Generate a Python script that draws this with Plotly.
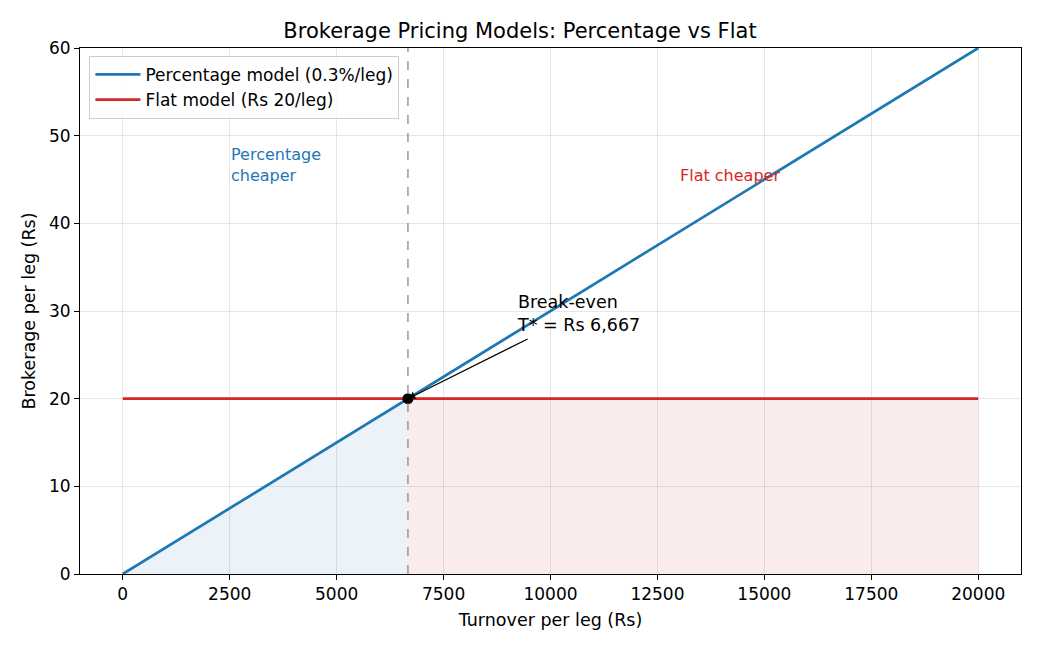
import plotly.graph_objects as go

# Data
turnover = [0, 6667, 20000]
pct_fee = [0, 20, 60]
flat_fee = [20, 20, 20]
breakeven_x = 6667
breakeven_y = 20
x_ticks = [0, 2500, 5000, 7500, 10000, 12500, 15000, 17500, 20000]
y_ticks = [0, 10, 20, 30, 40, 50, 60]

BLUE = "#1f77b4"
RED = "#d62728"
FONT = "DejaVu Sans"

fig = go.Figure()

# Fills
fig.add_trace(go.Scatter(x=turnover[:2], y=pct_fee[:2], fill="tozeroy",
                         fillcolor="rgba(31,119,180,0.09)", line=dict(width=0),
                         mode="lines", showlegend=False, hoverinfo="skip"))
fig.add_trace(go.Scatter(x=turnover[1:], y=flat_fee[1:], fill="tozeroy",
                         fillcolor="rgba(214,39,40,0.09)", line=dict(width=0),
                         mode="lines", showlegend=False, hoverinfo="skip"))

# Lines
fig.add_trace(go.Scatter(x=turnover, y=pct_fee, mode="lines",
                         line=dict(color=BLUE, width=2.7),
                         name="Percentage model (0.3%/leg)"))
fig.add_trace(go.Scatter(x=turnover, y=flat_fee, mode="lines",
                         line=dict(color=RED, width=2.7),
                         name="Flat model (Rs 20/leg)"))

# Break-even marker
fig.add_trace(go.Scatter(x=[breakeven_x], y=[breakeven_y], mode="markers",
                         marker=dict(color="black", size=11), showlegend=False))

# Vertical dashed line
fig.add_shape(type="line", x0=breakeven_x, x1=breakeven_x, y0=0, y1=1,
              xref="x", yref="paper",
              line=dict(color="gray", width=1.2, dash="dash"), layer="above")

# Region labels
fig.add_annotation(x=2500, y=44.3, xref="x", yref="y", text="Percentage<br>cheaper",
                   showarrow=False, xanchor="left", yanchor="bottom", align="left",
                   font=dict(family=FONT, size=16, color=BLUE), borderpad=0)
fig.add_annotation(x=13000, y=44.3, xref="x", yref="y", text="Flat cheaper",
                   showarrow=False, xanchor="left", yanchor="bottom", align="left",
                   font=dict(family=FONT, size=16, color=RED), borderpad=0)

# Break-even annotation
fig.add_annotation(x=9200, y=27.2, xref="x", yref="y",
                   text="Break-even<br>T* = Rs 6,667",
                   showarrow=False, xanchor="left", yanchor="bottom", align="left",
                   font=dict(family=FONT, size=17.5, color="black"), borderpad=0)
fig.add_annotation(x=breakeven_x, y=breakeven_y, ax=9500, ay=26.9,
                   xref="x", yref="y", axref="x", ayref="y", text="",
                   showarrow=True, arrowhead=1, arrowsize=1.2, arrowwidth=1.2,
                   arrowcolor="black", standoff=3)

axis_common = dict(showline=True, mirror=True, linecolor="black", linewidth=1,
                   ticks="outside", ticklen=5, tickcolor="black",
                   showgrid=True, gridcolor="rgba(200,200,200,0.45)", gridwidth=1,
                   zeroline=False,
                   tickfont=dict(family=FONT, size=17, color="black"))

fig.update_xaxes(range=[-1000, 21000], tickvals=x_ticks,
                 ticktext=[str(v) for v in x_ticks],
                 title=dict(text="Turnover per leg (Rs)",
                            font=dict(family=FONT, size=17.5, color="black"), standoff=10),
                 **axis_common)
fig.update_yaxes(range=[0, 60], tickvals=y_ticks,
                 title=dict(text="Brokerage per leg (Rs)",
                            font=dict(family=FONT, size=17.5, color="black"), standoff=8),
                 **axis_common)

fig.update_layout(
    width=1040, height=650,
    margin=dict(l=80, r=19, t=48, b=76),
    paper_bgcolor="white", plot_bgcolor="white",
    title=dict(text="Brokerage Pricing Models: Percentage vs Flat",
               x=0.5, xanchor="center", y=1 - 31 / 650, yanchor="middle",
               font=dict(family=FONT, size=21, color="black")),
    legend=dict(x=0.01, y=0.985, xanchor="left", yanchor="top",
                bgcolor="rgba(255,255,255,0.8)", bordercolor="#cccccc", borderwidth=1,
                font=dict(family=FONT, size=17, color="black"),
                tracegroupgap=0, itemwidth=45),
    font=dict(family=FONT),
)

fig.write_html("out.html")
